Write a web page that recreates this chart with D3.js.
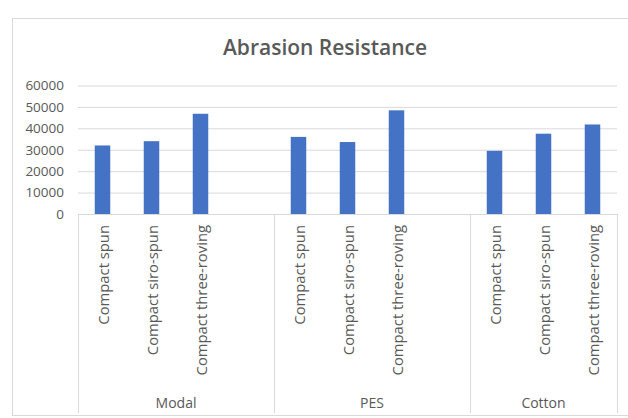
<!DOCTYPE html>
<html>
<head>
<meta charset="utf-8">
<script src="https://cdn.jsdelivr.net/npm/d3@7"></script>
<style>
  html, body { margin: 0; padding: 0; background: #fff; }
  svg { display: block; }
  text { font-family: "Open Sans", "Liberation Sans", sans-serif; fill: #595959; }
</style>
</head>
<body>
<svg id="chart" width="628" height="418"></svg>
<script>
const title = "Abrasion Resistance";
const groups = ["Modal", "PES", "Cotton"];
const methods = ["Compact spun", "Compact siro-spun", "Compact three-roving"];
const modalValues = [32000, 34000, 46800];
const pesValues = [36000, 33600, 48400];
const cottonValues = [29500, 37500, 41800];
const yTicks = [0, 10000, 20000, 30000, 40000, 50000, 60000];

const seriesByGroup = [modalValues, pesValues, cottonValues];

// Build slot list (a blank slot follows each group except the last, as in the source sheet)
const slots = [];
groups.forEach((g, gi) => {
  methods.forEach((m, mi) => slots.push({ id: g + "|" + m, group: g, method: m, value: seriesByGroup[gi][mi] }));
  if (gi < groups.length - 1) slots.push({ id: g + "|blank", group: g, method: null, value: null });
});

const svg = d3.select("#chart");
const plot = { left: 78, right: 617, top: 85.5, bottom: 214 };
const axisBottom = 413;

// chart border
svg.append("rect")
  .attr("x", 12.5).attr("y", 18.5).attr("width", 640).attr("height", 397)
  .attr("fill", "none").attr("stroke", "#d9d9d9").attr("stroke-width", 1);

const x = d3.scaleBand().domain(slots.map(d => d.id)).range([plot.left, plot.right]).paddingInner(0).paddingOuter(0);
const y = d3.scaleLinear().domain([0, 60000]).range([plot.bottom, plot.top]);

// title
svg.append("text")
  .attr("x", 325).attr("y", 55)
  .attr("text-anchor", "middle")
  .style("font-size", "21px").style("font-weight", "600")
  .text(title);

// gridlines + y labels
const yAxis = d3.axisLeft(y).tickValues(yTicks).tickSize(-(plot.right - plot.left)).tickPadding(14).tickFormat(d3.format("d"));
const gy = svg.append("g").attr("transform", `translate(${plot.left},0)`).call(yAxis);
gy.select(".domain").remove();
gy.selectAll(".tick line").attr("stroke", "#d9d9d9").attr("stroke-width", 1);
gy.selectAll(".tick text").style("font-size", "13.5px").attr("fill", "#595959");

// bars
const bw = 15.5;
svg.append("g").selectAll("rect")
  .data(slots.filter(d => d.value !== null))
  .join("rect")
  .attr("x", d => x(d.id) + x.bandwidth() / 2 - bw / 2)
  .attr("width", bw)
  .attr("y", d => y(d.value))
  .attr("height", d => y(0) - y(d.value))
  .attr("fill", "#4472c4");

// category axis line
svg.append("line")
  .attr("x1", plot.left).attr("x2", plot.right)
  .attr("y1", plot.bottom + 0.5).attr("y2", plot.bottom + 0.5)
  .attr("stroke", "#d9d9d9");

// group separators
const groupBounds = groups.map(g => {
  const s = slots.filter(d => d.group === g);
  return { group: g, x0: x(s[0].id), x1: x(s[s.length - 1].id) + x.bandwidth() };
});
const sepX = [groupBounds[0].x0].concat(groupBounds.map(b => b.x1));
svg.append("g").selectAll("line")
  .data(sepX)
  .join("line")
  .attr("x1", d => Math.round(d) + 0.5).attr("x2", d => Math.round(d) + 0.5)
  .attr("y1", plot.bottom).attr("y2", axisBottom)
  .attr("stroke", "#d9d9d9");

// inner category labels (rotated)
svg.append("g").selectAll("text")
  .data(slots.filter(d => d.method !== null))
  .join("text")
  .attr("transform", d => `translate(${x(d.id) + x.bandwidth() / 2},${plot.bottom + 11}) rotate(-90)`)
  .attr("text-anchor", "end")
  .attr("dominant-baseline", "central")
  .style("font-size", "14.8px")
  .text(d => d.method);

// group labels
svg.append("g").selectAll("text")
  .data(groupBounds)
  .join("text")
  .attr("x", d => (d.x0 + d.x1) / 2)
  .attr("y", 402)
  .attr("text-anchor", "middle")
  .attr("dominant-baseline", "central")
  .style("font-size", "14px")
  .text(d => d.group);
</script>
</body>
</html>
